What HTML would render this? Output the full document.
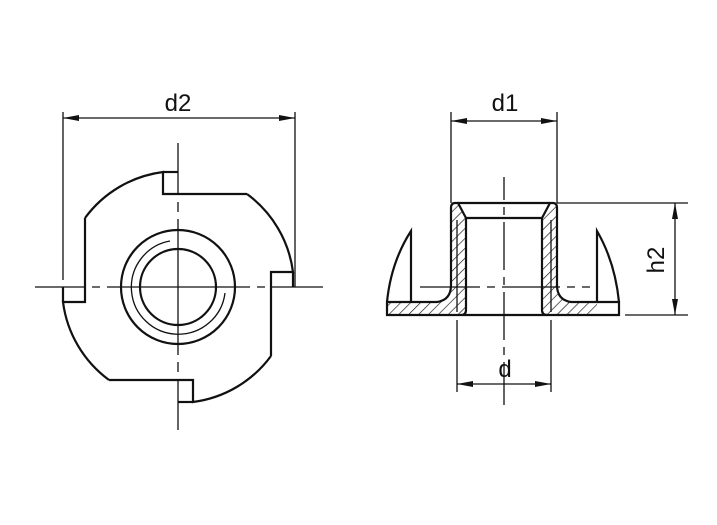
<!DOCTYPE html>
<html><head><meta charset="utf-8"><style>
html,body{margin:0;padding:0;background:#fff;}
svg{display:block;}
text{font-family:"Liberation Sans",sans-serif;font-size:24px;fill:#111;}
</style></head><body>
<svg width="717" height="525" viewBox="0 0 717 525" xmlns="http://www.w3.org/2000/svg">
<defs>
<marker id="a" viewBox="0 0 16 6" refX="16" refY="3" markerWidth="16" markerHeight="6" markerUnits="userSpaceOnUse" orient="auto-start-reverse"><path d="M0,0 L16,3 L0,6 Z" fill="#111"/></marker>
<pattern id="h" patternUnits="userSpaceOnUse" width="7" height="7" patternTransform="rotate(45)"><line x1="0" y1="0" x2="0" y2="7" stroke="#111" stroke-width="1.3"/></pattern>
</defs>
<g stroke="#111" fill="none">
<g stroke-width="2.2">
<g id="q"><path d="M85,218 L85,302 L63,302 A115,115 0 0 0 109,380"/><path d="M63,287 L63,302"/></g>
<use href="#q" transform="rotate(90 178 287)"/>
<use href="#q" transform="rotate(180 178 287)"/>
<use href="#q" transform="rotate(270 178 287)"/>
<circle cx="178" cy="287" r="57"/>
<circle cx="178" cy="287" r="38"/>
</g>
<path d="M170,241 A47,47 0 1 0 225,293" stroke-width="1.3"/>
<g stroke-width="1.3">
<path d="M35,287 H85 M92,287 H100 M107,287 H250 M257,287 H265 M272,287 H323"/>
<path d="M178,143 V195 M178,202 V212 M178,219 V355 M178,362 V372 M178,379 V430"/>
<path d="M63,112 V280 M295,112 V287"/>
<path d="M63,118 H295" marker-start="url(#a)" marker-end="url(#a)"/>
</g>
<path d="M455,203 L458,203 L466,218 L466,310 Q466,315 461,315 L387,315 L387,302 L437,302 Q451,300 451,285 L451,208 Q451,203 455,203 Z" fill="url(#h)" stroke="none"/>
<path d="M553,203 L550,203 L542,218 L542,310 Q542,315 547,315 L597,315 L597,302 L571,302 Q557,300 557,285 L557,208 Q557,203 553,203 Z" fill="url(#h)" stroke="none"/>
<g stroke-width="2.2">
<path d="M455,203 L458,203 L466,218 L466,310 Q466,315 461,315 M451,208 Q451,203 455,203 M451,208 L451,285 Q451,300 437,302 L387,302 L387,315 L619,315 L619,302 L597,302 M411,302 V231 Q391,262 387,302"/>
<path d="M553,203 L550,203 L542,218 L542,310 Q542,315 547,315 M557,208 Q557,203 553,203 M557,208 L557,285 Q557,300 571,302 L597,302 V231 Q615,262 619,302"/>
<path d="M458,203 H550 M466,218 H542"/>
</g>
<g stroke-width="1.3">
<path d="M457,220 V312 M551,220 V312"/>
<path d="M504,177 V200 M504,207 V215 M504,222 V270 M504,277 V285 M504,292 V340 M504,347 V355 M504,362 V405"/>
<path d="M420,287 H480 M487,287 H495 M502,287 H560 M567,287 H575 M582,287 H590"/>
<path d="M451,112 V203 M557,112 V203"/>
<path d="M451,121 H557" marker-start="url(#a)" marker-end="url(#a)"/>
<path d="M557,203 H688 M625,315 H688"/>
<path d="M675,203 V315" marker-start="url(#a)" marker-end="url(#a)"/>
<path d="M457,320 V392 M551,320 V392"/>
<path d="M457,384 H551" marker-start="url(#a)" marker-end="url(#a)"/>
</g>
</g>
<text x="178" y="111" text-anchor="middle">d2</text>
<text x="505" y="111" text-anchor="middle">d1</text>
<text x="505" y="377" text-anchor="middle">d</text>
<text transform="translate(664,260) rotate(-90)" text-anchor="middle">h2</text>
</svg>
</body></html>
